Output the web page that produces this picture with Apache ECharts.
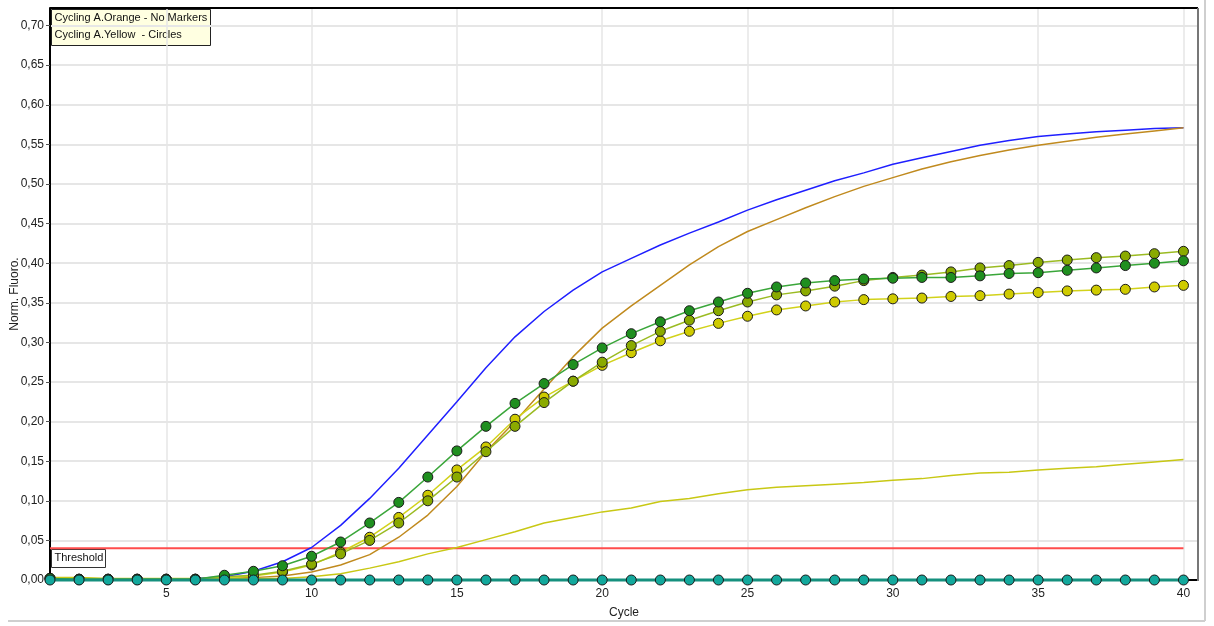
<!DOCTYPE html>
<html>
<head>
<meta charset="utf-8">
<script src="https://cdn.jsdelivr.net/npm/echarts@6/dist/echarts.min.js"></script>
<style>
html,body{margin:0;padding:0;background:#fff;}
#chart{width:1214px;height:626px;}
</style>
</head>
<body>
<div id="chart"></div>
<script>
var cycles = [1,2,3,4,5,6,7,8,9,10,11,12,13,14,15,16,17,18,19,20,21,22,23,24,25,26,27,28,29,30,31,32,33,34,35,36,37,38,39,40];
var xTicks = [5,10,15,20,25,30,35,40];
var blueLine = [0.001,0.001,0.001,0.001,0.001,0.002,0.004,0.011,0.023,0.041,0.069,0.103,0.141,0.183,0.225,0.268,0.307,0.339,0.366,0.389,0.406,0.423,0.438,0.452,0.467,0.480,0.492,0.504,0.514,0.525,0.533,0.541,0.549,0.555,0.560,0.563,0.566,0.568,0.570,0.571];
var brownLine = [0.001,0.001,0.001,0.001,0.001,0.001,0.002,0.003,0.005,0.010,0.019,0.032,0.054,0.082,0.118,0.162,0.200,0.241,0.282,0.318,0.346,0.372,0.398,0.421,0.440,0.455,0.470,0.484,0.497,0.508,0.519,0.528,0.536,0.543,0.549,0.554,0.559,0.563,0.567,0.571];
var yellowLine = [0.003,0.003,0.002,0.002,0.002,0.002,0.002,0.002,0.002,0.004,0.008,0.015,0.023,0.033,0.041,0.051,0.061,0.072,0.079,0.086,0.091,0.099,0.103,0.109,0.114,0.117,0.119,0.121,0.123,0.126,0.128,0.132,0.135,0.136,0.139,0.141,0.143,0.146,0.149,0.152];
var greenCircles = [0.002,0.001,0.001,0.001,0.001,0.001,0.006,0.011,0.018,0.030,0.048,0.072,0.098,0.130,0.163,0.194,0.223,0.248,0.272,0.293,0.311,0.326,0.340,0.351,0.362,0.370,0.375,0.378,0.380,0.381,0.382,0.382,0.384,0.387,0.388,0.391,0.394,0.397,0.400,0.403];
var oliveCircles = [0.002,0.001,0.001,0.001,0.001,0.001,0.004,0.006,0.011,0.020,0.033,0.050,0.072,0.100,0.130,0.162,0.194,0.224,0.251,0.275,0.296,0.314,0.328,0.340,0.351,0.360,0.365,0.371,0.378,0.382,0.385,0.389,0.394,0.397,0.401,0.404,0.407,0.409,0.412,0.415];
var yellowCircles = [0.002,0.001,0.001,0.001,0.001,0.001,0.003,0.005,0.010,0.019,0.035,0.054,0.079,0.107,0.139,0.168,0.203,0.231,0.251,0.271,0.287,0.302,0.314,0.324,0.333,0.341,0.346,0.351,0.354,0.355,0.356,0.358,0.359,0.361,0.363,0.365,0.366,0.367,0.370,0.372];
var tealCircles = [0,0,0,0,0,0,0,0,0,0,0,0,0,0,0,0,0,0,0,0,0,0,0,0,0,0,0,0,0,0,0,0,0,0,0,0,0,0,0,0];
var thresholdValue = 0.04;
var legendLines = ['Cycling A.Orange - No Markers', 'Cycling A.Yellow  - Circles'];
var yTitle = 'Norm. Fluoro.';

function pairs(arr){ return cycles.map(function(c,i){ return [c, arr[i]]; }); }

var chart = echarts.init(document.getElementById('chart'), null, {renderer:'canvas'});
var font = 'Liberation Sans, Arial, sans-serif';

function lineSeries(name, arr, color, width, z){
  return {name:name, type:'line', data:pairs(arr), showSymbol:false, symbol:'none',
    lineStyle:{color:color, width:width}, itemStyle:{color:color}, z:z, animation:false, silent:true};
}
function circleSeries(name, arr, fill, lineColor, z){
  return {name:name, type:'line', data:pairs(arr), symbol:'circle', symbolSize:10, showSymbol:true,
    lineStyle:{color:lineColor, width:1.5},
    itemStyle:{color:fill, borderColor:'#1a1a1a', borderWidth:1}, z:z, animation:false, silent:true, clip:false};
}

var option = {
  animation:false,
  backgroundColor:'#ffffff',
  grid:{left:50, right:16, top:8, bottom:46, show:false, containLabel:false, outerBoundsMode:'none'},
  xAxis:{
    type:'value', min:1, max:40.5,
    name:'Cycle', nameLocation:'middle', nameGap:27,
    nameTextStyle:{color:'#222', fontSize:12, fontFamily:font},
    axisLine:{show:true, onZero:false, lineStyle:{color:'#000', width:2}},
    axisTick:{show:true, length:4, customValues:xTicks, lineStyle:{color:'#888'}},
    axisLabel:{customValues:xTicks, color:'#222', fontSize:12, fontFamily:font, margin:8},
    splitLine:{show:true, customValues:xTicks, lineStyle:{color:'#e6e6e6', width:1.5}}
  },
  yAxis:{
    type:'value', min:0, max:0.7222, interval:0.05,
    axisLine:{show:true, lineStyle:{color:'#000', width:2}},
    axisTick:{show:true, length:4, lineStyle:{color:'#555'}},
    axisLabel:{color:'#222', fontSize:12, fontFamily:font, margin:6, showMaxLabel:false,
      formatter:function(v){ return v.toFixed(2).replace('.', ','); }},
    splitLine:{show:true, lineStyle:{color:'#e6e6e6', width:2}}
  },
  series:[
    lineSeries('Threshold', [], '#ff4d4d', 2, 1),
    lineSeries('Blue', blueLine, '#1f1fff', 1.5, 3),
    lineSeries('Brown', brownLine, '#c08a1e', 1.5, 3),
    lineSeries('Yellow', yellowLine, '#c8c814', 1.5, 3),
    circleSeries('Yellow circles', yellowCircles, '#cfcb00', '#d2d21a', 4),
    circleSeries('Olive circles', oliveCircles, '#8aaa00', '#9bbb22', 5),
    circleSeries('Green circles', greenCircles, '#1f8f1f', '#3aa63a', 6),
    {name:'Teal circles', type:'line', data:pairs(tealCircles), symbol:'circle', symbolSize:10,
      lineStyle:{color:'#15907e', width:3}, itemStyle:{color:'#12a89c', borderColor:'#1a1a1a', borderWidth:1},
      z:7, animation:false, silent:true, clip:false}
  ],
  graphic:[
    {type:'line', shape:{x1:50, y1:8, x2:1198, y2:8}, style:{stroke:'#000', lineWidth:2}, z:10},
    {type:'line', shape:{x1:1198, y1:8, x2:1198, y2:581}, style:{stroke:'#777', lineWidth:2}, z:10},
    {type:'line', shape:{x1:8, y1:621, x2:1205, y2:621}, style:{stroke:'#cfcfcf', lineWidth:2}, z:10},
    {type:'line', shape:{x1:1205, y1:0, x2:1205, y2:621}, style:{stroke:'#cfcfcf', lineWidth:2}, z:10},
    {type:'text', x:15, y:294, rotation:Math.PI/2, z:20,
      style:{text:yTitle, fill:'#222', font:'12px '+font, align:'center', verticalAlign:'middle'}},
    {type:'group', left:51, top:9, z:20, children:[
      {type:'rect', shape:{x:0, y:0, width:159, height:36}, style:{fill:'#ffffe1', stroke:'#222', lineWidth:1}},
      {type:'text', left:3, top:3, style:{text:legendLines[0], fill:'#111', font:'11px '+font}},
      {type:'text', left:3, top:20, style:{text:legendLines[1], fill:'#111', font:'11px '+font}}
    ]},
    {type:'group', left:51, top:549, z:20, children:[
      {type:'rect', shape:{x:0, y:0, width:54, height:18}, style:{fill:'#fff', stroke:'#333', lineWidth:1}},
      {type:'text', left:3, top:3, style:{text:'Threshold', fill:'#111', font:'11px '+font}}
    ]}
  ]
};
option.series[0].data = [[cycles[0], thresholdValue], [cycles[cycles.length-1], thresholdValue]];
chart.setOption(option);
</script>
</body>
</html>
